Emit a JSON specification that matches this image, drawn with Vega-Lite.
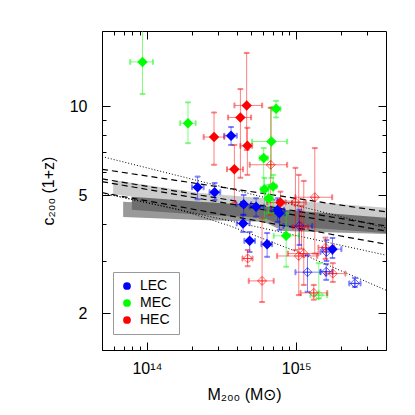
{
"$schema": "https://vega.github.io/schema/vega-lite/v6.json",
"width": 284, "height": 319,
"autosize": {"type": "none"},
"padding": {"left": 102, "top": 31, "right": 29, "bottom": 65},
"background": "white",
"config": {
  "view": {"stroke": "black", "strokeWidth": 1},
  "axis": {"domainColor": "black", "tickColor": "black", "labelColor": "black", "titleColor": "black",
           "labelFont": "Liberation Sans", "titleFont": "Liberation Sans", "labelFontSize": 16, "titleFontSize": 16,
           "titleFontWeight": "normal", "grid": false, "labelOverlap": false, "labelFlush": false, "tickWidth": 1, "domainWidth": 1},
  "legend": {"labelFont": "Liberation Sans", "labelFontSize": 15, "labelColor": "black"}
},
"datasets": {
  "pts": [
    {"cls":"MEC","open":false,"m":9.34e13,"c":14.15,"mlo":7.73e13,"mhi":1.097e14,"clo":11.02,"chi":19},
    {"cls":"MEC","open":false,"m":1.884e14,"c":8.78,"mlo":1.673e14,"mhi":2.12e14,"clo":7.51,"chi":10.32},
    {"cls":"MEC","open":false,"m":7.34e14,"c":9.82,"mlo":6.9e14,"mhi":7.85e14,"clo":9.18,"chi":10.45},
    {"cls":"MEC","open":false,"m":6.83e14,"c":7.61,"mlo":5.07e14,"mhi":8.7e14,"clo":5.73,"chi":9.9},
    {"cls":"MEC","open":false,"m":6.06e14,"c":6.69,"mlo":5.7e14,"mhi":6.45e14,"clo":5.15,"chi":7.23},
    {"cls":"MEC","open":false,"m":7.01e14,"c":5.36,"mlo":6.6e14,"mhi":7.4e14,"clo":4.3,"chi":5.87},
    {"cls":"MEC","open":false,"m":6.13e14,"c":5.25,"mlo":5.8e14,"mhi":6.5e14,"clo":4.15,"chi":5.73},
    {"cls":"MEC","open":false,"m":6.55e14,"c":4.89,"mlo":6.2e14,"mhi":6.9e14,"clo":4.35,"chi":5.42},
    {"cls":"MEC","open":false,"m":8.57e14,"c":3.65,"mlo":7.07e14,"mhi":1.041e15,"clo":2.87,"chi":4.35},
    {"cls":"MEC","open":true,"m":1.418e15,"c":2.3,"mlo":1.247e15,"mhi":1.615e15,"clo":2.24,"chi":2.95},
    {"cls":"LEC","open":false,"m":2.186e14,"c":5.33,"mlo":2.004e14,"mhi":2.398e14,"clo":4.85,"chi":5.79},
    {"cls":"LEC","open":false,"m":2.843e14,"c":5.13,"mlo":2.63e14,"mhi":3.1e14,"clo":4.83,"chi":5.51},
    {"cls":"LEC","open":false,"m":3.663e14,"c":7.96,"mlo":3.3e14,"mhi":4.0e14,"clo":7.41,"chi":8.52},
    {"cls":"LEC","open":false,"m":4.45e14,"c":4.67,"mlo":3.97e14,"mhi":5.0e14,"clo":4.3,"chi":5.02},
    {"cls":"LEC","open":false,"m":5.39e14,"c":4.58,"mlo":4.88e14,"mhi":6.06e14,"clo":4.24,"chi":4.89},
    {"cls":"LEC","open":false,"m":4.41e14,"c":4.02,"mlo":4.0e14,"mhi":4.88e14,"clo":3.76,"chi":4.3},
    {"cls":"LEC","open":false,"m":4.88e14,"c":3.51,"mlo":4.5e14,"mhi":5.3e14,"clo":3.22,"chi":3.76},
    {"cls":"LEC","open":false,"m":6.39e14,"c":3.42,"mlo":5.85e14,"mhi":6.9e14,"clo":3.1,"chi":3.73},
    {"cls":"LEC","open":false,"m":7.52e14,"c":4.47,"mlo":6.83e14,"mhi":8.3e14,"clo":4.07,"chi":4.89},
    {"cls":"LEC","open":false,"m":7.73e14,"c":4.35,"mlo":7.2e14,"mhi":8.4e14,"clo":3.82,"chi":4.83},
    {"cls":"LEC","open":false,"m":1.752e15,"c":3.29,"mlo":1.5e15,"mhi":2.01e15,"clo":3.07,"chi":3.59},
    {"cls":"LEC","open":true,"m":1.052e15,"c":3.94,"mlo":8.22e14,"mhi":1.281e15,"clo":3.4,"chi":4.47},
    {"cls":"LEC","open":true,"m":1.191e15,"c":2.75,"mlo":9.89e14,"mhi":1.456e15,"clo":2.36,"chi":3.14},
    {"cls":"LEC","open":true,"m":1.59e15,"c":2.76,"mlo":1.456e15,"mhi":1.75e15,"clo":2.59,"chi":2.93},
    {"cls":"LEC","open":true,"m":1.597e15,"c":3.22,"mlo":1.456e15,"mhi":1.75e15,"clo":3.0,"chi":3.53},
    {"cls":"LEC","open":true,"m":2.474e15,"c":2.52,"mlo":2.27e15,"mhi":2.7e15,"clo":2.45,"chi":2.63},
    {"cls":"HEC","open":false,"m":4.66e14,"c":10.08,"mlo":3.86e14,"mhi":5.92e14,"clo":7.13,"chi":15.17},
    {"cls":"HEC","open":false,"m":4.23e14,"c":9.18,"mlo":3.5e14,"mhi":4.99e14,"clo":5.74,"chi":11.45},
    {"cls":"HEC","open":false,"m":2.817e14,"c":7.88,"mlo":2.4e14,"mhi":3.3e14,"clo":6.35,"chi":9.54},
    {"cls":"HEC","open":false,"m":4.71e14,"c":7.36,"mlo":4.23e14,"mhi":5.07e14,"clo":5.87,"chi":8.47},
    {"cls":"HEC","open":false,"m":3.855e14,"c":6.13,"mlo":3.44e14,"mhi":4.41e14,"clo":4.72,"chi":7.41},
    {"cls":"HEC","open":false,"m":7.85e14,"c":4.73,"mlo":6.39e14,"mhi":9.4e14,"clo":4.4,"chi":5.15},
    {"cls":"HEC","open":true,"m":6.75e14,"c":6.35,"mlo":4.88e14,"mhi":8.7e14,"clo":4.3,"chi":9.9},
    {"cls":"HEC","open":true,"m":1.333e15,"c":4.93,"mlo":9.89e14,"mhi":1.744e15,"clo":3.18,"chi":7.23},
    {"cls":"HEC","open":true,"m":9.89e14,"c":4.74,"mlo":8.5e14,"mhi":1.16e15,"clo":3.27,"chi":6.2},
    {"cls":"HEC","open":true,"m":1.085e15,"c":3.92,"mlo":9.5e14,"mhi":1.2e15,"clo":3.3,"chi":4.6},
    {"cls":"HEC","open":true,"m":4.73e14,"c":3.06,"mlo":4.37e14,"mhi":5.1e14,"clo":2.88,"chi":3.27},
    {"cls":"HEC","open":true,"m":5.91e14,"c":2.57,"mlo":4.81e14,"mhi":7.07e14,"clo":2.18,"chi":4.18},
    {"cls":"HEC","open":true,"m":1.041e15,"c":3.12,"mlo":7.45e14,"mhi":1.384e15,"clo":2.3,"chi":5.87},
    {"cls":"HEC","open":true,"m":1.125e15,"c":3.18,"mlo":8.8e14,"mhi":1.41e15,"clo":2.49,"chi":5.6},
    {"cls":"HEC","open":true,"m":1.573e15,"c":3.33,"mlo":1.41e15,"mhi":1.8e15,"clo":3.05,"chi":3.6},
    {"cls":"HEC","open":true,"m":1.76e15,"c":2.72,"mlo":1.57e15,"mhi":2.14e15,"clo":2.55,"chi":2.95},
    {"cls":"HEC","open":true,"m":1.313e15,"c":2.34,"mlo":1.07e15,"mhi":1.615e15,"clo":2.22,"chi":2.49}
  ],
  "bands": [
    {"band":"light","m":5.94e13,"top":5.64,"bot":5.06},
    {"band":"light","m":2.28e14,"top":5.10,"bot":4.61},
    {"band":"light","m":6.72e14,"top":4.87,"bot":4.33},
    {"band":"light","m":4e15,"top":4.54,"bot":4.07},
    {"band":"medium","m":6.93e13,"top":4.76,"bot":4.23},
    {"band":"medium","m":2.28e14,"top":4.61,"bot":4.13},
    {"band":"medium","m":6.03e14,"top":4.47,"bot":4.07},
    {"band":"medium","m":8.22e14,"top":4.26,"bot":3.79},
    {"band":"medium","m":4e15,"top":4.07,"bot":3.70},
    {"band":"dark","m":7.93e13,"top":4.95,"bot":4.47},
    {"band":"dark","m":2.28e14,"top":4.76,"bot":4.30},
    {"band":"dark","m":6.03e14,"top":4.61,"bot":4.20},
    {"band":"dark","m":8.22e14,"top":4.47,"bot":3.94},
    {"band":"dark","m":4e15,"top":4.20,"bot":3.73}
  ],
  "lines": [
    {"id":"d1","m":5e13,"c":6.13},{"id":"d1","m":4e15,"c":4.40},
    {"id":"d2","m":5e13,"c":5.69},{"id":"d2","m":4e15,"c":3.94},
    {"id":"d3","m":5e13,"c":5.57},{"id":"d3","m":4e15,"c":3.79},
    {"id":"d4","m":5e13,"c":5.11},{"id":"d4","m":4e15,"c":3.42},
    {"id":"p1","m":5e13,"c":6.77},{"id":"p1","m":4e15,"c":3.88},
    {"id":"p2","m":5e13,"c":5.10},{"id":"p2","m":4e15,"c":3.14},
    {"id":"p3","m":5e13,"c":5.10},{"id":"p3","m":1.67e14,"c":4.47},{"id":"p3","m":3.62e14,"c":3.94},{"id":"p3","m":1.02e15,"c":3.22},{"id":"p3","m":4e15,"c":2.39}
  ]
},
"resolve": {"axis": {"x": "independent", "y": "independent"}},
"layer": [
  {
    "data": {"name": "bands"},
    "transform": [{"filter": "datum.band == 'light'"}],
    "mark": {"type": "area", "color": "#cccccc", "clip": true},
    "encoding": {
      "x": {"field": "m", "type": "quantitative", "scale": {"type": "log", "domain": [5e13, 4e15], "nice": false},
            "axis": {"orient": "bottom", "values": [6e13,7e13,8e13,9e13,1e14,2e14,3e14,4e14,5e14,6e14,7e14,8e14,9e14,1e15,2e15,3e15],
                     "labelExpr": "datum.value == 1e14 ? '10¹⁴' : datum.value == 1e15 ? '10¹⁵' : ''",
                     "tickSize": {"condition": {"test": "datum.value == 1e14 || datum.value == 1e15", "value": -8}, "value": -4},
                     "labelPadding": 18, "title": "M₂₀₀ (M⊙)", "titlePadding": 6}},
      "y": {"field": "top", "type": "quantitative", "scale": {"type": "log", "domain": [1.5, 18], "nice": false},
            "axis": {"orient": "left", "values": [2,3,4,5,6,7,8,9,10],
                     "labelExpr": "datum.value == 2 || datum.value == 5 || datum.value == 10 ? datum.value : ''",
                     "tickSize": {"condition": {"test": "datum.value == 2 || datum.value == 5 || datum.value == 10", "value": -8}, "value": -4},
                     "labelPadding": 23, "title": "c₂₀₀ (1+z)", "titlePadding": 13}},
      "y2": {"field": "bot"}
    }
  },
  {
    "data": {"name": "bands"},
    "transform": [{"filter": "datum.band == 'medium'"}],
    "mark": {"type": "area", "color": "#999999", "clip": true},
    "encoding": {
      "x": {"field": "m", "type": "quantitative", "scale": {"type": "log", "domain": [5e13, 4e15], "nice": false},
            "axis": {"orient": "top", "values": [6e13,7e13,8e13,9e13,1e14,2e14,3e14,4e14,5e14,6e14,7e14,8e14,9e14,1e15,2e15,3e15],
                     "labels": false, "domain": false, "title": null,
                     "tickSize": {"condition": {"test": "datum.value == 1e14 || datum.value == 1e15", "value": -8}, "value": -4}}},
      "y": {"field": "top", "type": "quantitative", "scale": {"type": "log", "domain": [1.5, 18], "nice": false},
            "axis": {"orient": "right", "values": [2,3,4,5,6,7,8,9,10], "labels": false, "domain": false, "title": null,
                     "tickSize": {"condition": {"test": "datum.value == 2 || datum.value == 5 || datum.value == 10", "value": -8}, "value": -4}}},
      "y2": {"field": "bot"}
    }
  },
  {
    "data": {"name": "bands"},
    "transform": [{"filter": "datum.band == 'dark'"}],
    "mark": {"type": "area", "color": "#6e6e6e", "clip": true},
    "encoding": {
      "x": {"field": "m", "type": "quantitative", "scale": {"type": "log", "domain": [5e13, 4e15], "nice": false}, "axis": null},
      "y": {"field": "top", "type": "quantitative", "scale": {"type": "log", "domain": [1.5, 18], "nice": false}, "axis": null},
      "y2": {"field": "bot"}
    }
  },
  {
    "data": {"name": "lines"},
    "transform": [{"filter": {"field": "id", "oneOf": ["d1","d2","d3","d4"]}}],
    "mark": {"type": "line", "color": "black", "strokeWidth": 1.2, "strokeDash": [6, 4], "clip": true},
    "encoding": {
      "x": {"field": "m", "type": "quantitative", "scale": {"type": "log", "domain": [5e13, 4e15], "nice": false}, "axis": null},
      "y": {"field": "c", "type": "quantitative", "scale": {"type": "log", "domain": [1.5, 18], "nice": false}, "axis": null},
      "detail": {"field": "id"}
    }
  },
  {
    "data": {"name": "lines"},
    "transform": [{"filter": {"field": "id", "oneOf": ["p1","p2","p3"]}}],
    "mark": {"type": "line", "color": "black", "strokeWidth": 1, "strokeDash": [1, 2], "clip": true},
    "encoding": {
      "x": {"field": "m", "type": "quantitative", "scale": {"type": "log", "domain": [5e13, 4e15], "nice": false}, "axis": null},
      "y": {"field": "c", "type": "quantitative", "scale": {"type": "log", "domain": [1.5, 18], "nice": false}, "axis": null},
      "detail": {"field": "id"}
    }
  },
  {
    "data": {"name": "pts"},
    "mark": {"type": "rule", "strokeWidth": 1, "opacity": 0.5, "clip": true},
    "encoding": {
      "x": {"field": "mlo", "type": "quantitative", "scale": {"type": "log", "domain": [5e13, 4e15], "nice": false}, "axis": null},
      "x2": {"field": "mhi"},
      "y": {"field": "c", "type": "quantitative", "scale": {"type": "log", "domain": [1.5, 18], "nice": false}, "axis": null},
      "stroke": {"field": "cls", "type": "nominal", "scale": {"domain": ["HEC","LEC","MEC"], "range": ["#ff0000","#0000ff","#00ff00"]}, "legend": null}
    }
  },
  {
    "data": {"name": "pts"},
    "mark": {"type": "rule", "strokeWidth": 1, "opacity": 0.5, "clip": true},
    "encoding": {
      "x": {"field": "m", "type": "quantitative", "scale": {"type": "log", "domain": [5e13, 4e15], "nice": false}, "axis": null},
      "y": {"field": "clo", "type": "quantitative", "scale": {"type": "log", "domain": [1.5, 18], "nice": false}, "axis": null},
      "y2": {"field": "chi"},
      "stroke": {"field": "cls", "type": "nominal", "scale": {"domain": ["HEC","LEC","MEC"], "range": ["#ff0000","#0000ff","#00ff00"]}, "legend": null}
    }
  },
  {
    "data": {"name": "pts"},
    "mark": {"type": "tick", "orient": "vertical", "size": 5, "thickness": 1, "opacity": 0.5, "clip": true},
    "encoding": {
      "x": {"field": "mlo", "type": "quantitative", "scale": {"type": "log", "domain": [5e13, 4e15], "nice": false}, "axis": null},
      "y": {"field": "c", "type": "quantitative", "scale": {"type": "log", "domain": [1.5, 18], "nice": false}, "axis": null},
      "stroke": {"field": "cls", "type": "nominal", "scale": {"domain": ["HEC","LEC","MEC"], "range": ["#ff0000","#0000ff","#00ff00"]}, "legend": null}
    }
  },
  {
    "data": {"name": "pts"},
    "mark": {"type": "tick", "orient": "vertical", "size": 5, "thickness": 1, "opacity": 0.5, "clip": true},
    "encoding": {
      "x": {"field": "mhi", "type": "quantitative", "scale": {"type": "log", "domain": [5e13, 4e15], "nice": false}, "axis": null},
      "y": {"field": "c", "type": "quantitative", "scale": {"type": "log", "domain": [1.5, 18], "nice": false}, "axis": null},
      "stroke": {"field": "cls", "type": "nominal", "scale": {"domain": ["HEC","LEC","MEC"], "range": ["#ff0000","#0000ff","#00ff00"]}, "legend": null}
    }
  },
  {
    "data": {"name": "pts"},
    "mark": {"type": "tick", "orient": "horizontal", "size": 5, "thickness": 1, "opacity": 0.5, "clip": true},
    "encoding": {
      "x": {"field": "m", "type": "quantitative", "scale": {"type": "log", "domain": [5e13, 4e15], "nice": false}, "axis": null},
      "y": {"field": "clo", "type": "quantitative", "scale": {"type": "log", "domain": [1.5, 18], "nice": false}, "axis": null},
      "stroke": {"field": "cls", "type": "nominal", "scale": {"domain": ["HEC","LEC","MEC"], "range": ["#ff0000","#0000ff","#00ff00"]}, "legend": null}
    }
  },
  {
    "data": {"name": "pts"},
    "mark": {"type": "tick", "orient": "horizontal", "size": 5, "thickness": 1, "opacity": 0.5, "clip": true},
    "encoding": {
      "x": {"field": "m", "type": "quantitative", "scale": {"type": "log", "domain": [5e13, 4e15], "nice": false}, "axis": null},
      "y": {"field": "chi", "type": "quantitative", "scale": {"type": "log", "domain": [1.5, 18], "nice": false}, "axis": null},
      "stroke": {"field": "cls", "type": "nominal", "scale": {"domain": ["HEC","LEC","MEC"], "range": ["#ff0000","#0000ff","#00ff00"]}, "legend": null}
    }
  },
  {
    "data": {"name": "pts"},
    "transform": [{"filter": "datum.open"}],
    "mark": {"type": "point", "shape": "M-1,0L0,-1L1,0L0,1ZM-1,0L1,0M0,-1L0,1", "filled": false, "size": 81, "strokeWidth": 1, "opacity": 0.6, "clip": true},
    "encoding": {
      "x": {"field": "m", "type": "quantitative", "scale": {"type": "log", "domain": [5e13, 4e15], "nice": false}, "axis": null},
      "y": {"field": "c", "type": "quantitative", "scale": {"type": "log", "domain": [1.5, 18], "nice": false}, "axis": null},
      "stroke": {"field": "cls", "type": "nominal", "scale": {"domain": ["HEC","LEC","MEC"], "range": ["#ff0000","#0000ff","#00ff00"]}, "legend": null}
    }
  },
  {
    "data": {"name": "pts"},
    "transform": [{"filter": "!datum.open"}],
    "mark": {"type": "point", "shape": "diamond", "filled": true, "size": 110, "opacity": 1, "clip": true},
    "encoding": {
      "x": {"field": "m", "type": "quantitative", "scale": {"type": "log", "domain": [5e13, 4e15], "nice": false}, "axis": null},
      "y": {"field": "c", "type": "quantitative", "scale": {"type": "log", "domain": [1.5, 18], "nice": false}, "axis": null},
      "fill": {"field": "cls", "type": "nominal", "scale": {"domain": ["LEC","MEC","HEC"], "range": ["#0000ff","#00ff00","#ff0000"]},
                "legend": {"title": null, "orient": "none", "legendX": 11, "legendY": 241, "symbolType": "circle", "symbolSize": 60,
                           "strokeColor": "#999999", "fillColor": "white", "padding": 7, "rowPadding": 3, "labelOffset": 6,
                           "cornerRadius": 0, "labelFontSize": 14}}
    }
  }
]
}
